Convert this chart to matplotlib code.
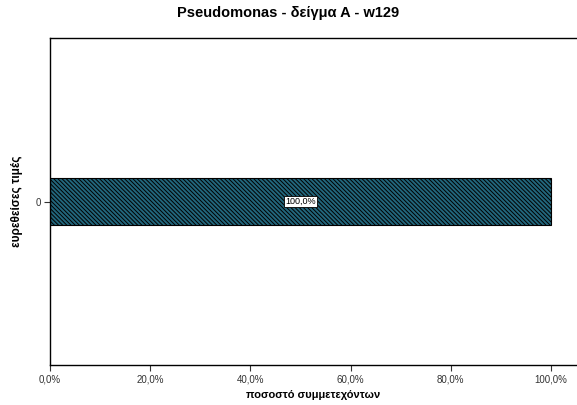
import matplotlib
matplotlib.use("Agg")
import matplotlib.pyplot as plt
from matplotlib.ticker import FuncFormatter

plt.rcParams['font.family'] = ['Liberation Sans', 'DejaVu Sans']
plt.rcParams['hatch.linewidth'] = 0.7

# Data
categories = ["0"]
percent = [100.0]
x_ticks = [0, 20, 40, 60, 80, 100]

fig = plt.figure(figsize=(5.77, 4.05), dpi=100)
ax = fig.add_axes([50 / 577, 40 / 405, 527 / 577, 327 / 405])

bars = ax.barh(range(len(categories)), percent, height=0.29,
               color="#22667c", edgecolor="black", linewidth=0.8, hatch="\\" * 8)

for b, v in zip(bars, percent):
    ax.text(b.get_width() / 2, b.get_y() + b.get_height() / 2,
            f"{v:.1f}%".replace(".", ","), ha="center", va="center", fontsize=6.5,
            bbox=dict(boxstyle="square,pad=0.15", facecolor="white", edgecolor="black", linewidth=0.6))

ax.set_xlim(0, 105.2)
ax.set_ylim(-1, 1)
ax.set_xticks(x_ticks)
ax.xaxis.set_major_formatter(FuncFormatter(lambda v, p: f"{v:.1f}%".replace(".", ",")))
ax.set_yticks(range(len(categories)))
ax.set_yticklabels(categories)
ax.tick_params(labelsize=7, length=4, width=0.8, pad=2.5, colors="#333333", labelcolor="#333333")

ax.spines['right'].set_visible(False)
for s in ['top', 'left', 'bottom']:
    ax.spines[s].set_linewidth(1.0)

ax.set_xlabel("ποσοστό συμμετεχόντων", fontsize=8, fontweight="bold", labelpad=4)
ax.set_ylabel("ευρεθείσες τιμές", fontsize=8.5, fontweight="bold", labelpad=9)
fig.suptitle("Pseudomonas - δείγμα A - w129", fontsize=10.5, fontweight="bold", y=0.985)

fig.savefig("out.png", dpi=100)
